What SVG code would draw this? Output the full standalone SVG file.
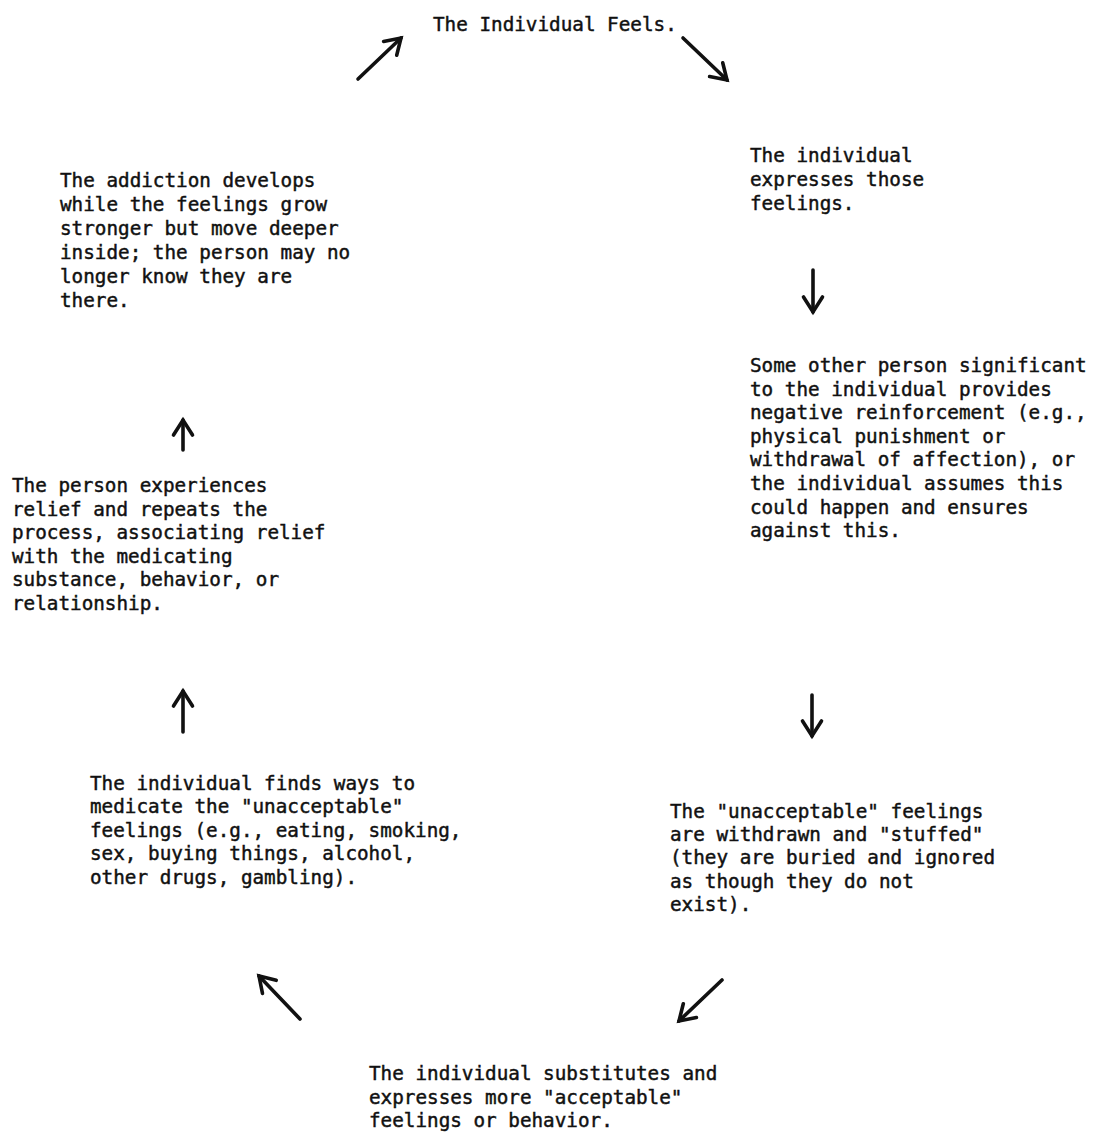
<svg xmlns="http://www.w3.org/2000/svg" width="1093" height="1132" viewBox="0 0 1093 1132">
<style>
text{font-family:"DejaVu Sans Mono","Liberation Mono",monospace;font-size:19.3px;fill:#111;stroke:#111;stroke-width:0.45}
.c{stroke:#111;stroke-width:3.6;fill:none;stroke-linecap:round}
</style>
<defs>
<marker id="ah" markerUnits="userSpaceOnUse" markerWidth="30" markerHeight="30" viewBox="-20 -15 30 30" refX="0" refY="0" orient="auto">
<path d="M-15,-9.5 L0,0 L-15,9.5" fill="none" stroke="#111" stroke-width="3.6" stroke-linecap="round" stroke-linejoin="miter"/>
</marker>
</defs>
<rect width="1093" height="1132" fill="#fff"/>
<g id="n1"><text x="433" y="31">The Individual Feels.</text></g>
<g id="n2"><text x="750" y="162"><tspan x="750">The individual</tspan><tspan x="750" dy="23.8">expresses those</tspan><tspan x="750" dy="23.8">feelings.</tspan></text></g>
<g id="n3"><text x="750" y="372"><tspan x="750">Some other person significant</tspan><tspan x="750" dy="23.6">to the individual provides</tspan><tspan x="750" dy="23.6">negative reinforcement (e.g.,</tspan><tspan x="750" dy="23.6">physical punishment or</tspan><tspan x="750" dy="23.6">withdrawal of affection), or</tspan><tspan x="750" dy="23.6">the individual assumes this</tspan><tspan x="750" dy="23.6">could happen and ensures</tspan><tspan x="750" dy="23.6">against this.</tspan></text></g>
<g id="n4"><text x="670" y="818"><tspan x="670">The "unacceptable" feelings</tspan><tspan x="670" dy="23.2">are withdrawn and "stuffed"</tspan><tspan x="670" dy="23.2">(they are buried and ignored</tspan><tspan x="670" dy="23.2">as though they do not</tspan><tspan x="670" dy="23.2">exist).</tspan></text></g>
<g id="n5"><text x="369" y="1080"><tspan x="369">The individual substitutes and</tspan><tspan x="369" dy="23.5">expresses more "acceptable"</tspan><tspan x="369" dy="23.5">feelings or behavior.</tspan></text></g>
<g id="n6"><text x="90" y="790"><tspan x="90">The individual finds ways to</tspan><tspan x="90" dy="23.4">medicate the "unacceptable"</tspan><tspan x="90" dy="23.4">feelings (e.g., eating, smoking,</tspan><tspan x="90" dy="23.4">sex, buying things, alcohol,</tspan><tspan x="90" dy="23.4">other drugs, gambling).</tspan></text></g>
<g id="n7"><text x="12" y="492"><tspan x="12">The person experiences</tspan><tspan x="12" dy="23.6">relief and repeats the</tspan><tspan x="12" dy="23.6">process, associating relief</tspan><tspan x="12" dy="23.6">with the medicating</tspan><tspan x="12" dy="23.6">substance, behavior, or</tspan><tspan x="12" dy="23.6">relationship.</tspan></text></g>
<g id="n8"><text x="60" y="187"><tspan x="60">The addiction develops</tspan><tspan x="60" dy="24">while the feelings grow</tspan><tspan x="60" dy="24">stronger but move deeper</tspan><tspan x="60" dy="24">inside; the person may no</tspan><tspan x="60" dy="24">longer know they are</tspan><tspan x="60" dy="24">there.</tspan></text></g>
<g id="connectors">
<line class="c" x1="683" y1="38" x2="727" y2="80" marker-end="url(#ah)"/>
<line class="c" x1="813" y1="270" x2="813" y2="312" marker-end="url(#ah)"/>
<line class="c" x1="812" y1="695" x2="812" y2="736" marker-end="url(#ah)"/>
<line class="c" x1="722" y1="980" x2="679" y2="1021" marker-end="url(#ah)"/>
<line class="c" x1="300" y1="1019" x2="259" y2="976" marker-end="url(#ah)"/>
<line class="c" x1="183" y1="732" x2="183" y2="691" marker-end="url(#ah)"/>
<line class="c" x1="183" y1="450" x2="183" y2="420" marker-end="url(#ah)"/>
<line class="c" x1="358" y1="79" x2="401" y2="38" marker-end="url(#ah)"/>
</g>
</svg>
